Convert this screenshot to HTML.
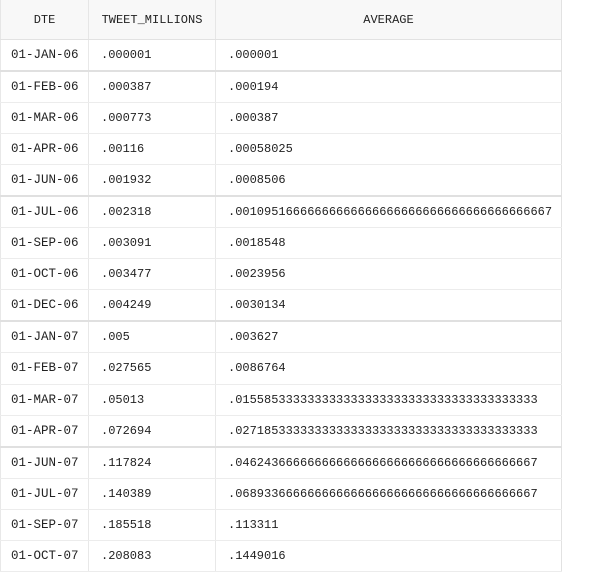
<!DOCTYPE html>
<html><head><meta charset="utf-8"><style>
body{margin:0;width:592px;height:569px;overflow:hidden;background:#fff;font-family:"Liberation Mono",monospace;font-size:12px;color:#222}
table{border-collapse:collapse;width:562px;table-layout:fixed;border-right:1px solid #e2e2e2}
th{height:39px;background:#f8f8f8;font-weight:normal;text-align:center;border-left:1px solid #e6e6e6;border-bottom:1px solid #e2e2e2;padding:0}
td{height:30.05px;padding:0 0 0 12px;border-left:1px solid #e8e8e8;border-bottom:1px solid #ececec;white-space:nowrap;overflow:hidden}
td:first-child{padding-left:10px;font-size:12.5px}
tr.thick td{border-bottom:2px solid #e0e0e0}
</style></head><body>
<table>
<colgroup><col style="width:88px"><col style="width:127px"><col></colgroup>
<thead><tr><th>DTE</th><th>TWEET_MILLIONS</th><th>AVERAGE</th></tr></thead>
<tbody id="tb"></tbody></table>
<script>
const dates=["01-JAN-06","01-FEB-06","01-MAR-06","01-APR-06","01-JUN-06","01-JUL-06","01-SEP-06","01-OCT-06","01-DEC-06","01-JAN-07","01-FEB-07","01-MAR-07","01-APR-07","01-JUN-07","01-JUL-07","01-SEP-07","01-OCT-07"];
const tweets=[".000001",".000387",".000773",".00116",".001932",".002318",".003091",".003477",".004249",".005",".027565",".05013",".072694",".117824",".140389",".185518",".208083"];
const avgs=[".000001",".000194",".000387",".00058025",".0008506",".0010951"+"6".repeat(36)+"7",".0018548",".0023956",".0030134",".003627",".0086764",".015585"+"3".repeat(36),".027185"+"3".repeat(36),".046243"+"6".repeat(35)+"7",".068933"+"6".repeat(35)+"7",".113311",".1449016"];
const thick=[0,4,8,12];
const tb=document.getElementById('tb');
dates.forEach((d,i)=>{
 const tr=document.createElement('tr');
 
 
 if(thick.includes(i))tr.className='thick';
 [d,tweets[i],avgs[i]].forEach((v,j)=>{
  const td=document.createElement('td');
  
  
  td.textContent=v;tr.appendChild(td);
 });
 tb.appendChild(tr);
});
</script>
</body></html>
